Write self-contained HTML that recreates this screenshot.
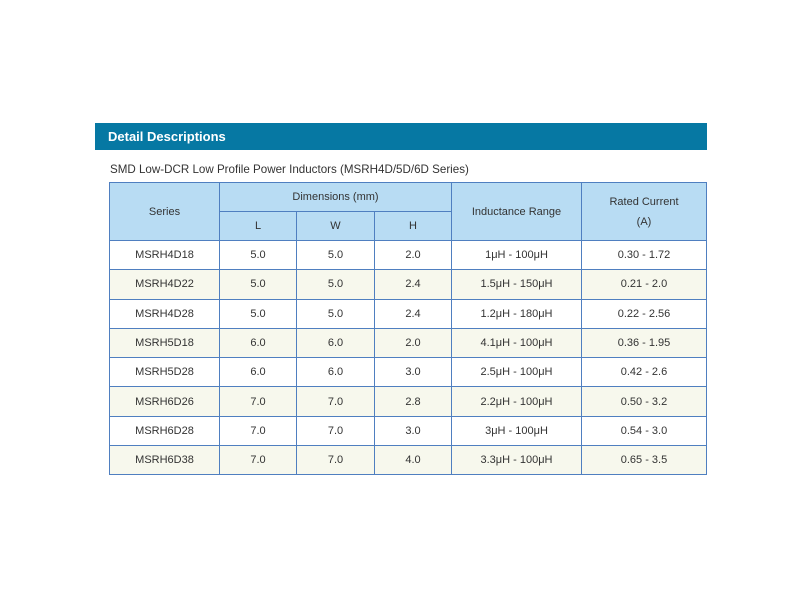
<!DOCTYPE html>
<html><head><meta charset="utf-8"><style>
body{margin:0;width:800px;height:600px;background:#fff;position:relative;font-family:"Liberation Sans",Arial,sans-serif;}
.bar{position:absolute;left:95px;top:123px;width:612px;height:27px;background:#0678a3;color:#fff;font-weight:bold;font-size:13px;line-height:27px;}
.bar span{padding-left:13px;}
.cap{position:absolute;left:110px;top:163px;font-size:11.6px;color:#333;}
table{position:absolute;left:109px;top:182px;border-collapse:collapse;table-layout:fixed;font-size:11px;color:#333;}
td{border:1.5px solid #4f7fc0;text-align:center;padding:0;}
.h td{background:#b8dcf3;}
tr.d td{height:28.3px;}
tr.a td{background:#f7f8ed;}
</style></head><body>
<div class="bar"><span>Detail Descriptions</span></div>
<div class="cap">SMD Low-DCR Low Profile Power Inductors (MSRH4D/5D/6D Series)</div>
<table>
<colgroup><col style="width:110px"><col style="width:77px"><col style="width:78px"><col style="width:77px"><col style="width:130px"><col style="width:125px"></colgroup>
<tr class="h"><td rowspan="2">Series</td><td colspan="3" style="height:28px">Dimensions (mm)</td><td rowspan="2">Inductance Range</td><td rowspan="2" style="line-height:20px">Rated Current<br>(A)</td></tr>
<tr class="h"><td style="height:28px">L</td><td>W</td><td>H</td></tr>
<tr class="d"><td>MSRH4D18</td><td>5.0</td><td>5.0</td><td>2.0</td><td>1μH - 100μH</td><td>0.30 - 1.72</td></tr>
<tr class="d a"><td>MSRH4D22</td><td>5.0</td><td>5.0</td><td>2.4</td><td>1.5μH - 150μH</td><td>0.21 - 2.0</td></tr>
<tr class="d"><td>MSRH4D28</td><td>5.0</td><td>5.0</td><td>2.4</td><td>1.2μH - 180μH</td><td>0.22 - 2.56</td></tr>
<tr class="d a"><td>MSRH5D18</td><td>6.0</td><td>6.0</td><td>2.0</td><td>4.1μH - 100μH</td><td>0.36 - 1.95</td></tr>
<tr class="d"><td>MSRH5D28</td><td>6.0</td><td>6.0</td><td>3.0</td><td>2.5μH - 100μH</td><td>0.42 - 2.6</td></tr>
<tr class="d a"><td>MSRH6D26</td><td>7.0</td><td>7.0</td><td>2.8</td><td>2.2μH - 100μH</td><td>0.50 - 3.2</td></tr>
<tr class="d"><td>MSRH6D28</td><td>7.0</td><td>7.0</td><td>3.0</td><td>3μH - 100μH</td><td>0.54 - 3.0</td></tr>
<tr class="d a"><td>MSRH6D38</td><td>7.0</td><td>7.0</td><td>4.0</td><td>3.3μH - 100μH</td><td>0.65 - 3.5</td></tr>
</table>
</body></html>
